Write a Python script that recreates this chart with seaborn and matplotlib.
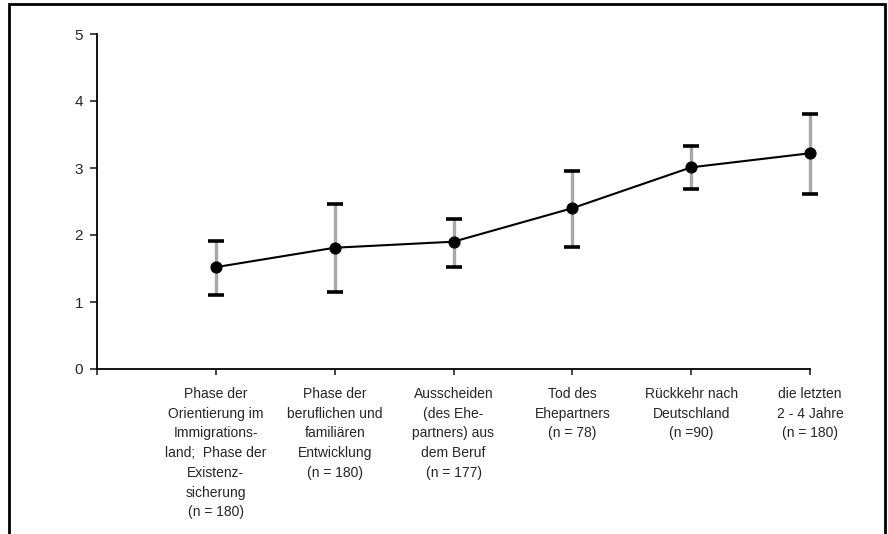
import matplotlib
matplotlib.use("Agg")
import matplotlib.pyplot as plt
from matplotlib.patches import Rectangle
import seaborn as sns
import pandas as pd
import numpy as np

categories = [
    "Phase der\nOrientierung im\nImmigrations-\nland;  Phase der\nExistenz-\nsicherung\n(n = 180)",
    "Phase der\nberuflichen und\nfamiliären\nEntwicklung\n(n = 180)",
    "Ausscheiden\n(des Ehe-\npartners) aus\ndem Beruf\n(n = 177)",
    "Tod des\nEhepartners\n(n = 78)",
    "Rückkehr nach\nDeutschland\n(n =90)",
    "die letzten\n2 - 4 Jahre\n(n = 180)",
]
means = [1.52, 1.81, 1.90, 2.40, 3.01, 3.22]
lower = [1.10, 1.15, 1.52, 1.82, 2.69, 2.61]
upper = [1.91, 2.46, 2.24, 2.96, 3.33, 3.81]

sns.set_style("white")
plt.rcParams['font.family'] = ['Liberation Sans', 'DejaVu Sans']

fig = plt.figure(figsize=(8.88, 5.34), dpi=100)
ax = fig.add_axes([97/888, 1-369/534, (810-97)/888, (369-34)/534])

pos = np.arange(1, len(categories) + 1)
df = pd.DataFrame({"pos": pos, "mean": means})

m = np.array(means)
yerr = np.vstack([m - np.array(lower), np.array(upper) - m])
eb = ax.errorbar(pos, m, yerr=yerr, fmt='none', ecolor='#a8a8a8', elinewidth=2.4,
                 capsize=6, capthick=2.6, zorder=2)
for cl in eb[1]:
    cl.set_color('black')
    cl.set_markeredgecolor('black')
    cl.set_clip_on(False)
for lc in eb[2]:
    lc.set_clip_on(False)

sns.lineplot(data=df, x="pos", y="mean", ax=ax, color='black', linewidth=1.5,
             marker='o', markersize=8, markeredgecolor='black', zorder=3)
for ln in ax.lines:
    ln.set_clip_on(False)

ax.set_xlim(0, 6)
ax.set_ylim(0, 5)
ax.set_xticks(range(0, 7))
ax.set_xticklabels([""] + categories, fontsize=10, linespacing=1.52, va='top')
ax.set_yticks(range(0, 6))
ax.set_yticklabels([str(i) for i in range(6)], fontsize=11)
ax.tick_params(axis='y', direction='out', length=5, width=1.2, pad=5, left=True)
ax.tick_params(axis='x', direction='out', length=4, width=1.2, pad=9, bottom=True)
ax.set_xlabel("")
ax.set_ylabel("")
for s in ['top', 'right']:
    ax.spines[s].set_visible(False)
for s in ['left', 'bottom']:
    ax.spines[s].set_linewidth(1.3)
    ax.spines[s].set_color('black')

fig.patches.append(Rectangle((9/888, -0.05), (885-9)/888, 1.05 - 4/534,
                             transform=fig.transFigure, fill=False,
                             edgecolor='black', linewidth=2, zorder=10))

fig.savefig("out.png", dpi=100)
